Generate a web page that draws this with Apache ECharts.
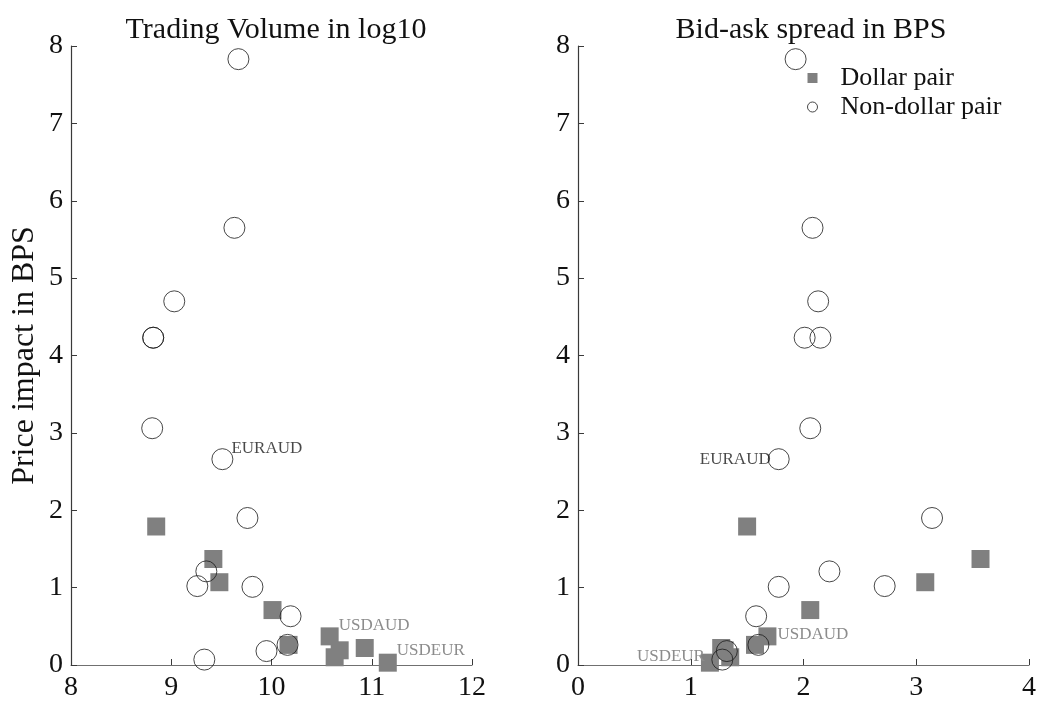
<!DOCTYPE html>
<html>
<head>
<meta charset="utf-8">
<title>Price impact vs. volume and spread</title>
<script src="https://cdn.jsdelivr.net/npm/echarts@6/dist/echarts.min.js"></script>
<style>
  html, body { margin: 0; padding: 0; background: #ffffff; }
  #chart { width: 1039px; height: 702px; }
</style>
</head>
<body>
<div id="chart"></div>
<script>
// Dollar pairs (USD on one side)
const dollarVolume = [8.85, 9.42, 9.48, 10.01, 10.58, 10.17, 10.93, 10.68, 10.63, 11.16];
const dollarSpread = [1.50, 3.57, 3.08, 2.06, 1.68, 1.57, 1.27, 1.30, 1.35, 1.17];
const dollarImpact = [1.79, 1.37, 1.07, 0.71, 0.37, 0.26, 0.22, 0.19, 0.10, 0.03];
const dollarNames  = ['', '', '', '', 'USDAUD', '', '', '', '', 'USDEUR'];

// Cross pairs without USD
const crossVolume = [9.67, 9.63, 9.03, 8.82, 8.82, 8.81, 9.51, 9.76, 9.35, 9.26, 9.81, 10.19, 10.16, 9.95, 9.33];
const crossSpread = [1.93, 2.08, 2.13, 2.01, 2.15, 2.06, 1.78, 3.14, 2.23, 2.72, 1.78, 1.58, 1.60, 1.32, 1.28];
const crossImpact = [7.83, 5.65, 4.70, 4.23, 4.23, 3.06, 2.66, 1.90, 1.21, 1.02, 1.01, 0.63, 0.26, 0.18, 0.07];
const crossNames  = ['', '', '', '', '', '', 'EURAUD', '', '', '', '', '', '', '', ''];

const panelTitles = ['Trading Volume in log10', 'Bid-ask spread in BPS'];
const volumeTicks = [8, 12, 1];   // min, max, step
const spreadTicks = [0, 4, 1];
const impactTicks = [0, 8, 1];

const FONT = 'Liberation Serif';
const axisDark = '#3a3a3a';
const axisGrey = '#707070';
const squareGrey = '#808080';

// label placement per panel, keyed by pair name
const labelStyle = {
  0: {
    EURAUD: { align: 'left',  offset: [9, -11], color: '#1a1a1a' },
    USDAUD: { align: 'left',  offset: [9, -11], color: '#8c8c8c' },
    USDEUR: { align: 'left',  offset: [9, -12], color: '#8c8c8c' }
  },
  1: {
    EURAUD: { align: 'right', offset: [-8, 0],  color: '#1a1a1a' },
    USDAUD: { align: 'left',  offset: [10, -2], color: '#8c8c8c' },
    USDEUR: { align: 'right', offset: [-5, -6], color: '#8c8c8c' }
  }
};

function buildPoints(xs, ys, names, panel) {
  return xs.map((x, i) => {
    const item = { value: [x, ys[i]] };
    const n = names[i];
    if (n) {
      const s = labelStyle[panel][n];
      item.label = {
        show: true,
        formatter: n,
        position: 'inside',
        align: s.align,
        verticalAlign: 'middle',
        offset: s.offset,
        color: s.color,
        fontFamily: FONT,
        fontSize: 17
      };
    }
    return item;
  });
}

function xAxisFor(ticks, grid) {
  return {
    type: 'value', gridIndex: grid,
    min: ticks[0], max: ticks[1], interval: ticks[2],
    axisLine: { show: true, onZero: false, lineStyle: { color: axisGrey, width: 1.2 } },
    axisTick: { show: true, inside: true, length: 6, lineStyle: { color: axisDark, width: 1 } },
    axisLabel: { color: '#111', fontFamily: FONT, fontSize: 28, margin: 9 },
    splitLine: { show: false }
  };
}

function yAxisFor(grid, withName) {
  const ax = {
    type: 'value', gridIndex: grid,
    min: impactTicks[0], max: impactTicks[1], interval: impactTicks[2],
    axisLine: { show: true, onZero: false, lineStyle: { color: axisDark, width: 1.2 } },
    axisTick: { show: true, inside: true, length: 6, lineStyle: { color: axisDark, width: 1 } },
    axisLabel: { color: '#111', fontFamily: FONT, fontSize: 28, margin: 8 },
    splitLine: { show: false }
  };
  if (withName) {
    Object.assign(ax, {
      name: 'Price impact in BPS',
      nameLocation: 'middle',
      nameRotate: 90,
      nameGap: 30,
      nameTextStyle: { color: '#111', fontFamily: FONT, fontSize: 32 }
    });
  }
  return ax;
}

const squareSeries = (panel, xs) => ({
  name: 'Dollar pair', type: 'scatter',
  xAxisIndex: panel, yAxisIndex: panel,
  symbol: 'rect', symbolSize: 18,
  itemStyle: { color: squareGrey, opacity: 1 },
  emphasis: { disabled: true },
  z: 2,
  data: buildPoints(xs, dollarImpact, dollarNames, panel)
});

const circleSeries = (panel, xs) => ({
  name: 'Non-dollar pair', type: 'scatter',
  xAxisIndex: panel, yAxisIndex: panel,
  symbol: 'circle', symbolSize: 21,
  itemStyle: { color: 'rgba(0,0,0,0)', borderColor: '#1a1a1a', borderWidth: 1 },
  emphasis: { disabled: true },
  z: 3,
  data: buildPoints(xs, crossImpact, crossNames, panel)
});

const chart = echarts.init(document.getElementById('chart'), null, { renderer: 'canvas' });

chart.setOption({
  animation: false,
  backgroundColor: '#ffffff',
  textStyle: { fontFamily: FONT },
  title: [
    { text: panelTitles[0], left: 271, top: 10, textAlign: 'center',
      textStyle: { fontFamily: FONT, fontSize: 30, fontWeight: 'normal', color: '#111' } },
    { text: panelTitles[1], left: 806, top: 10, textAlign: 'center',
      textStyle: { fontFamily: FONT, fontSize: 30, fontWeight: 'normal', color: '#111' } }
  ],
  legend: {
    orient: 'vertical',
    left: 802, top: 60,
    itemWidth: 10, itemHeight: 10, itemGap: 3,
    textStyle: { fontFamily: FONT, fontSize: 26, color: '#111', lineHeight: 26, padding: [0, 0, 0, 18] },
    selectedMode: false,
    data: [
      { name: 'Dollar pair', icon: 'rect', itemStyle: { color: squareGrey } },
      { name: 'Non-dollar pair', icon: 'circle',
        itemStyle: { color: 'rgba(0,0,0,0)', borderColor: '#1a1a1a', borderWidth: 1 } }
    ]
  },
  grid: [
    { left: 71, top: 46, width: 401, height: 620 },
    { left: 578, top: 46, width: 455, height: 620 }
  ],
  xAxis: [xAxisFor(volumeTicks, 0), xAxisFor(spreadTicks, 1)],
  yAxis: [yAxisFor(0, true), yAxisFor(1, false)],
  series: [
    squareSeries(0, dollarVolume),
    squareSeries(1, dollarSpread),
    circleSeries(0, crossVolume),
    circleSeries(1, crossSpread)
  ]
});
</script>
</body>
</html>
